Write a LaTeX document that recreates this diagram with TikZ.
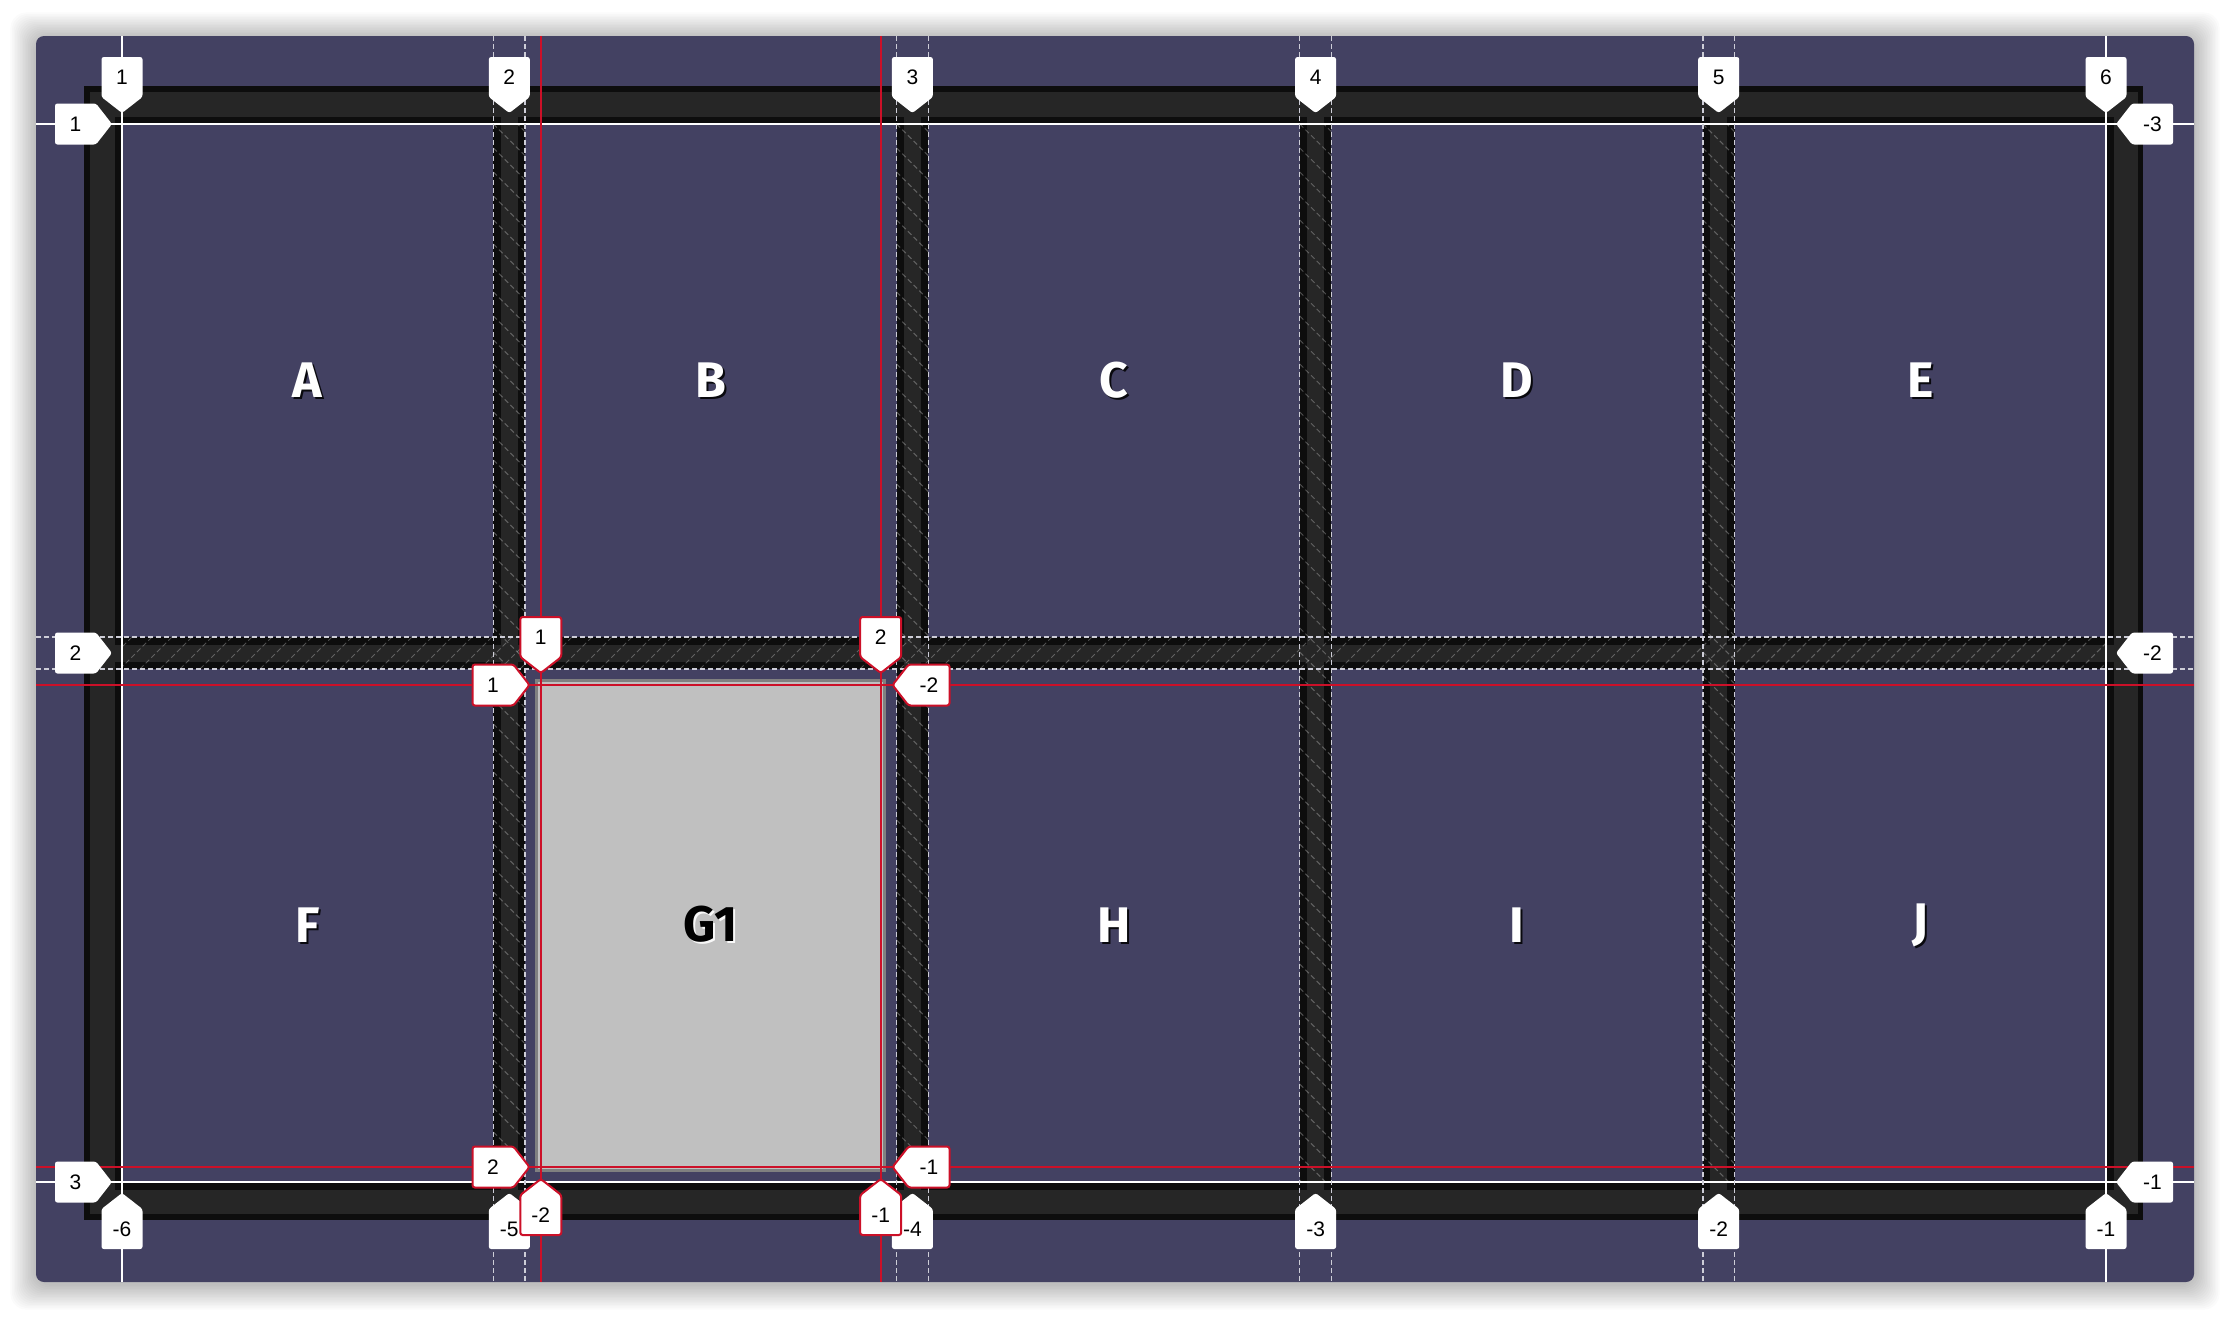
\documentclass[tikz,border=0pt]{standalone}
\usepackage{fontspec}
\setmainfont{Liberation Sans}
\newfontfamily\cellfont{Fira Sans}
\definecolor{panelcol}{RGB}{67,65,98}
\definecolor{deep}{RGB}{13,13,13}
\definecolor{band}{RGB}{38,38,38}
\definecolor{subred}{RGB}{204,16,40}
\definecolor{gapdash}{RGB}{205,205,215}
\definecolor{boxgray}{RGB}{192,192,192}
\definecolor{boxedge}{RGB}{128,128,128}
\tikzset{
  labtext/.style={inner sep=0pt, font=\fontsize{10.5}{12}\selectfont, text=black},
  wlab/.style={fill=white, rounded corners=1.2pt},
  rlab/.style={fill=white, draw=subred, line width=1pt, rounded corners=1.2pt},
  celltxt/.style={inner sep=0pt, text=white, font=\cellfont\bfseries\fontsize{25}{30}\selectfont},
  celltxtsh/.style={inner sep=0pt, text=black, opacity=0.85, font=\cellfont\bfseries\fontsize{25}{30}\selectfont},
  gaphatch/.style={draw=white, opacity=0.28, line width=0.5pt, dash pattern=on 2.5pt off 1.5pt},
  gapline/.style={draw=gapdash, line width=0.75pt, dash pattern=on 2.5pt off 1.5pt},
  edgeline/.style={draw=white, line width=0.8pt},
  subline/.style={draw=subred, line width=1.1pt},
  shadowlayer/.style={fill=black, opacity=0.016, rounded corners=8pt}
}
% labels: style, name, tip x, tip y, text
\newcommand\labT[5]{%
  \path[#1] (#3,#4) -- (#3-20.5,#4-16) -- (#3-20.5,#4-56) -- (#3+20.5,#4-56) -- (#3+20.5,#4-16) -- cycle;
  \node[labtext] (#2) at (#3,#4-36) {#5};}
\newcommand\labB[5]{%
  \path[#1] (#3,#4) -- (#3+20.5,#4+16) -- (#3+20.5,#4+56) -- (#3-20.5,#4+56) -- (#3-20.5,#4+16) -- cycle;
  \node[labtext] (#2) at (#3,#4+36) {#5};}
\newcommand\labL[5]{%
  \path[#1] (#3,#4) -- (#3-16,#4-20.5) -- (#3-57,#4-20.5) -- (#3-57,#4+20.5) -- (#3-16,#4+20.5) -- cycle;
  \node[labtext] (#2) at (#3-36.5,#4) {#5};}
\newcommand\labR[5]{%
  \path[#1] (#3,#4) -- (#3+16,#4-20.5) -- (#3+57,#4-20.5) -- (#3+57,#4+20.5) -- (#3+16,#4+20.5) -- cycle;
  \node[labtext] (#2) at (#3+36.5,#4) {#5};}
\begin{document}
\begin{tikzpicture}[x=0.5pt,y=-0.5pt]
\useasboundingbox (0,0) rectangle (2230,1318);
\fill[white] (0,0) rectangle (2230,1318);
% soft panel shadow
\foreach \k in {1,...,16}{
  \fill[shadowlayer] (36-1.6*\k,38-1.6*\k) rectangle (2194+1.6*\k,1284+1.6*\k);
}
% panel
\fill[panelcol, rounded corners=4pt] (36,36) rectangle (2194,1282);
% container
\fill[deep] (84,86) rectangle (2143,1220);
\fill[band] (90,92) rectangle (2138,1214);
% cells
\foreach \xa/\xb in {122/493.4, 525.15/896.55, 928.3/1299.7, 1331.45/1702.85, 1734.6/2106}{
  \foreach \ya/\yb in {124/637, 669/1182}{
    \fill[deep] (\xa-7.5,\ya-7.5) rectangle (\xb+7.5,\yb+7.5);
    \fill[panelcol] (\xa,\ya) rectangle (\xb,\yb);
  }
}
% G1 box
\fill[boxedge] (534.7,679) rectangle (886,1172);
\fill[boxgray] (537.5,681.8) rectangle (883.2,1169.2);
% hatching in column gaps
\foreach \gx in {493.4, 896.55, 1299.7, 1702.85}{
  \begin{scope}
    \clip (\gx,124) rectangle (\gx+31.75,1182);
    \foreach \yy in {76,100,...,1190}{
      \draw[gaphatch] (\gx,\yy) -- ++(34,34);
    }
  \end{scope}
}
% hatching in row gap
\begin{scope}
  \clip (122,637) rectangle (2106,669);
  \foreach \xx in {80,100,...,2110}{
    \draw[gaphatch] (\xx,669) -- ++(34,-34);
  }
\end{scope}
% edge lines
\foreach \lx in {122,2106}{ \draw[edgeline] (\lx,36) -- (\lx,1282); }
\foreach \ly in {124,1182}{ \draw[edgeline] (36,\ly) -- (2194,\ly); }
% gap lines
\foreach \lx in {493.4,525.15,896.55,928.3,1299.7,1331.45,1702.85,1734.6}{ \draw[gapline] (\lx,36) -- (\lx,1282); }
\foreach \ly in {637,669}{ \draw[gapline] (36,\ly) -- (2194,\ly); }
% subgrid red lines
\foreach \lx in {540.8,880.7}{ \draw[subline] (\lx,36) -- (\lx,1282); }
\foreach \ly in {685,1167}{ \draw[subline] (36,\ly) -- (2194,\ly); }
% cell letters
\foreach \n/\cx/\cy in {A/307.7/380.5, B/710.85/380.5, C/1114/380.5, D/1517.15/380.5, E/1920.3/380.5,
                       F/307.7/925.5, H/1114/925.5, I/1517.15/925.5, J/1920.3/925.5}{
  \node[celltxtsh] (\n-sh) at (\cx+2,\cy+2) {\n};
  \node[celltxt] (\n) at (\cx,\cy) {\n};
}
\node[celltxt, text=white, opacity=0.9] (G1-sh) at (712.5,926.5) {G1};
\node[celltxt, text=black] (G1) at (710.5,924.5) {G1};
% white labels: columns
\labT{wlab}{ct1}{122}{113}{1}
\labT{wlab}{ct2}{509.3}{113}{2}
\labT{wlab}{ct3}{912.4}{113}{3}
\labT{wlab}{ct4}{1315.6}{113}{4}
\labT{wlab}{ct5}{1718.7}{113}{5}
\labT{wlab}{ct6}{2106}{113}{6}
\labB{wlab}{cb6}{122}{1193}{-6}
\labB{wlab}{cb5}{509.3}{1193}{-5}
\labB{wlab}{cb4}{912.4}{1193}{-4}
\labB{wlab}{cb3}{1315.6}{1193}{-3}
\labB{wlab}{cb2}{1718.7}{1193}{-2}
\labB{wlab}{cb1}{2106}{1193}{-1}
% white labels: rows
\labL{wlab}{rl1}{112}{124}{1}
\labL{wlab}{rl2}{112}{653}{2}
\labL{wlab}{rl3}{112}{1182}{3}
\labR{wlab}{rr3}{2116}{124}{-3}
\labR{wlab}{rr2}{2116}{653}{-2}
\labR{wlab}{rr1}{2116}{1182}{-1}
% red subgrid labels
\labT{rlab}{st1}{540.8}{673}{1}
\labT{rlab}{st2}{880.7}{673}{2}
\labB{rlab}{sb2}{540.8}{1179}{-2}
\labB{rlab}{sb1}{880.7}{1179}{-1}
\labL{rlab}{sl1}{529.5}{685}{1}
\labL{rlab}{sl2}{529.5}{1167}{2}
\labR{rlab}{sr2}{892.5}{685}{-2}
\labR{rlab}{sr1}{892.5}{1167}{-1}
\end{tikzpicture}
\end{document}
